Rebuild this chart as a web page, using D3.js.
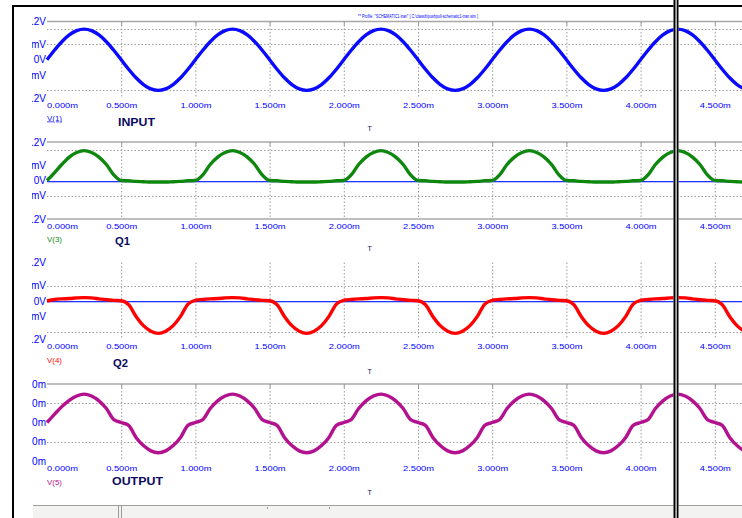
<!DOCTYPE html>
<html>
<head>
<meta charset="utf-8">
<script src="https://cdn.jsdelivr.net/npm/d3@7"></script>
<style>
  html, body { margin: 0; padding: 0; background: #fff; }
  svg { display: block; font-family: "Liberation Sans", Arial, sans-serif; }
</style>
</head>
<body>
<svg width="742" height="518"></svg>
<script>
// samples every 0.05 ms
const STEP = 0.05;

const inputV = [
  0, .31, .59, .81, .95, 1, .95, .81, .59, .31, 0, -.31, -.59, -.81, -.95, -1, -.95, -.81, -.59, -.31,
  0, .31, .59, .81, .95, 1, .95, .81, .59, .31, 0, -.31, -.59, -.81, -.95, -1, -.95, -.81, -.59, -.31,
  0, .31, .59, .81, .95, 1, .95, .81, .59, .31, 0, -.31, -.59, -.81, -.95, -1, -.95, -.81, -.59, -.31,
  0, .31, .59, .81, .95, 1, .95, .81, .59, .31, 0, -.31, -.59, -.81, -.95, -1, -.95, -.81, -.59, -.31,
  0, .31, .59, .81, .95, 1, .95, .81, .59, .31, 0, -.31, -.59, -.81, -.95, -1
];

const q1V = [
  0, .25, .52, .76, .91, .97, .91, .76, .52, .18, 0, -.01, -.03, -.04, -.05, -.05, -.05, -.04, -.03, -.01,
  0, .18, .52, .76, .91, .97, .91, .76, .52, .18, 0, -.01, -.03, -.04, -.05, -.05, -.05, -.04, -.03, -.01,
  0, .18, .52, .76, .91, .97, .91, .76, .52, .18, 0, -.01, -.03, -.04, -.05, -.05, -.05, -.04, -.03, -.01,
  0, .18, .52, .76, .91, .97, .91, .76, .52, .18, 0, -.01, -.03, -.04, -.05, -.05, -.05, -.04, -.03, -.01,
  0, .18, .52, .76, .91, .97, .91, .76, .52, .18, 0, -.01, -.03, -.04, -.05, -.05
];

const q2V = [
  0, .05, .07, .08, .1, .11, .1, .07, .04, .02, .01, -.12, -.5, -.8, -.98, -1.05, -.98, -.8, -.5, -.1,
  .02, .05, .07, .08, .1, .11, .1, .07, .04, .02, .01, -.12, -.5, -.8, -.98, -1.05, -.98, -.8, -.5, -.1,
  .02, .05, .07, .08, .1, .11, .1, .07, .04, .02, .01, -.12, -.5, -.8, -.98, -1.05, -.98, -.8, -.5, -.1,
  .02, .05, .07, .08, .1, .11, .1, .07, .04, .02, .01, -.12, -.5, -.8, -.98, -1.05, -.98, -.8, -.5, -.1,
  .02, .05, .07, .08, .1, .11, .1, .07, .04, .02, .01, -.12, -.5, -.8, -.98, -1.05
];

const outputV = [
  0, .17, .33, .46, .55, .59, .55, .45, .29, .06, 0, -.06, -.31, -.48, -.59, -.63, -.59, -.48, -.31, -.06,
  0, .06, .29, .45, .55, .59, .55, .45, .29, .06, 0, -.06, -.31, -.48, -.59, -.63, -.59, -.48, -.31, -.06,
  0, .06, .29, .45, .55, .59, .55, .45, .29, .06, 0, -.06, -.31, -.48, -.59, -.63, -.59, -.48, -.31, -.06,
  0, .06, .29, .45, .55, .59, .55, .45, .29, .06, 0, -.06, -.31, -.48, -.59, -.63, -.59, -.48, -.31, -.06,
  0, .06, .29, .45, .55, .59, .55, .45, .29, .06, 0, -.06, -.31, -.48, -.59, -.63
];

const xTicks = [0, 0.5, 1, 1.5, 2, 2.5, 3, 3.5, 4, 4.5];
const xTickLabels = ["0.000m", "0.500m", "1.000m", "1.500m", "2.000m", "2.500m", "3.000m", "3.500m", "4.000m", "4.500m"];

const voltTicks = [1.25, 0.5, 0, -0.5, -1.25];
const voltTickLabels = ["1.2V", "500mV", "0V", "-500mV", "-1.2V"];
const outTicks = [0.8, 0.4, 0, -0.4, -0.8];
const outTickLabels = ["800m", "400m", "0m", "-400m", "-800m"];

const plotTitles = ["INPUT", "Q1", "Q2", "OUTPUT"];
const traceNames = ["V(1)", "V(3)", "V(4)", "V(5)"];
const headerText = "** Profile: \"SCHEMATIC1-tran\"  [ C:\\classb\\pushpull-schematic1-tran.sim ]";

const BLUE = '#0000ff', GRID = '#9c9c9c';
const svg = d3.select('svg');
const x = d3.scaleLinear().domain([0, 5]).range([47, 47 + 148.4 * 5]);
const times = inputV.map((d, i) => i * STEP);

const panels = [
  {values: inputV, color: '#0a0aff', top: 21.5, bottom: 98, domain: [-1.25, 1.25],
   ticks: voltTicks, labels: voltTickLabels, grid: [1, 0.5, -1], zero: false, topLine: true, bottomLine: false,
   titleX: 118, titleY: 125.5, titleW: 37, traceY: 120.5, tY: 131},
  {values: q1V, color: '#0f870f', top: 142, bottom: 219, domain: [-1.25, 1.25],
   ticks: voltTicks, labels: voltTickLabels, grid: [1, -0.5], zero: true, topLine: true, bottomLine: true,
   titleX: 115, titleY: 245, titleW: 15, traceY: 241.5, tY: 251},
  {values: q2V, color: '#ff0000', top: 262.5, bottom: 339.5, domain: [-1.25, 1.25],
   ticks: voltTicks, labels: voltTickLabels, grid: [0.5, -1], zero: true, topLine: false, bottomLine: false,
   titleX: 113, titleY: 367, titleW: 15, traceY: 363, tY: 374},
  {values: outputV, color: '#b3128f', top: 384, bottom: 461, domain: [-0.8, 0.8],
   ticks: outTicks, labels: outTickLabels, grid: [0.4, -0.4], zero: false, topLine: true, bottomLine: false,
   titleX: 112, titleY: 485, titleW: 51, traceY: 485, tY: 495}
];

// y labels are cut off by the window edge
svg.append('defs').append('clipPath').attr('id', 'ylab')
  .append('rect').attr('x', 32).attr('y', 0).attr('width', 16).attr('height', 518);

panels.forEach((p, i) => {
  const y = d3.scaleLinear().domain(p.domain).range([p.bottom, p.top]);
  const g = svg.append('g');

  // vertical dotted grid
  g.selectAll('.vgrid').data(xTicks.filter(d => d > 0)).enter().append('line')
    .attr('x1', d => x(d) + 0.5).attr('x2', d => x(d) + 0.5)
    .attr('y1', p.top).attr('y2', p.bottom)
    .attr('stroke', GRID).attr('stroke-width', 1).attr('stroke-dasharray', '1.5,2');

  g.selectAll('.hgrid').data(p.grid).enter().append('line')
    .attr('x1', 47).attr('x2', 742)
    .attr('y1', d => Math.round(y(d)) + 0.5).attr('y2', d => Math.round(y(d)) + 0.5)
    .attr('stroke', GRID).attr('stroke-width', 1).attr('stroke-dasharray', '1.5,2');

  if (p.topLine) {
    g.append('line').attr('x1', 47).attr('x2', 742).attr('y1', p.top).attr('y2', p.top)
      .attr('stroke', '#a8a8a8').attr('stroke-width', 1.5);
    g.selectAll('.tick').data(xTicks.filter(d => d > 0)).enter().append('line')
      .attr('x1', d => x(d) + 0.5).attr('x2', d => x(d) + 0.5)
      .attr('y1', p.top).attr('y2', p.top + 4)
      .attr('stroke', GRID).attr('stroke-width', 1);
  }
  if (p.bottomLine) {
    g.append('line').attr('x1', 47).attr('x2', 742).attr('y1', p.bottom).attr('y2', p.bottom)
      .attr('stroke', '#a8a8a8').attr('stroke-width', 1.5);
  }
  if (p.zero) {
    g.append('rect').attr('x', 47).attr('width', 695)
      .attr('y', Math.round(y(0))).attr('height', 1.3)
      .attr('fill', '#2233ff');
  }

  // waveform
  const line = d3.line()
    .x((d, k) => x(times[k]))
    .y(d => y(d))
    .curve(d3.curveMonotoneX);
  g.append('path').datum(p.values)
    .attr('d', line)
    .attr('fill', 'none')
    .attr('stroke', p.color)
    .attr('stroke-width', 3.4)
    .attr('stroke-linejoin', 'round');

  // y tick labels
  g.append('g').attr('clip-path', 'url(#ylab)')
    .selectAll('text').data(p.ticks).enter().append('text')
    .attr('x', 46).attr('y', d => y(d) + 3.5)
    .attr('text-anchor', 'end')
    .attr('font-size', 10)
    .attr('fill', BLUE)
    .text((d, k) => p.labels[k]);

  // x tick labels
  g.selectAll('.xlab').data(xTicks).enter().append('text')
    .attr('x', d => d === 0 ? x(d) : x(d) - 15)
    .attr('y', p.bottom + 9.5)
    .attr('font-size', 8)
    .attr('textLength', 31)
    .attr('lengthAdjust', 'spacingAndGlyphs')
    .attr('fill', BLUE)
    .text((d, k) => xTickLabels[k]);

  // trace name
  g.append('text')
    .attr('x', 47).attr('y', p.traceY)
    .attr('font-size', 7.5)
    .attr('textLength', 15)
    .attr('lengthAdjust', 'spacingAndGlyphs')
    .attr('fill', p.color)
    .attr('text-decoration', i === 0 ? 'underline' : null)
    .text(traceNames[i]);

  // plot title
  g.append('text')
    .attr('x', p.titleX).attr('y', p.titleY)
    .attr('font-size', 10.5)
    .attr('font-weight', 'bold')
    .attr('textLength', p.titleW)
    .attr('lengthAdjust', 'spacingAndGlyphs')
    .attr('fill', '#0a0a60')
    .text(plotTitles[i]);

  // x axis name
  g.append('text')
    .attr('x', 367.5).attr('y', p.tY)
    .attr('font-size', 7)
    .attr('fill', '#0a0a60')
    .text('T');
});

// header line of the probe window
svg.append('text')
  .attr('x', 358).attr('y', 18)
  .attr('font-size', 5.5)
  .attr('textLength', 120)
  .attr('lengthAdjust', 'spacingAndGlyphs')
  .attr('fill', BLUE)
  .text(headerText);

// status bar at the bottom
const bar = svg.append('g');
bar.append('rect').attr('x', 33).attr('y', 505).attr('width', 709).attr('height', 13).attr('fill', '#f3f3f1');
bar.append('line').attr('x1', 33).attr('x2', 742).attr('y1', 505.5).attr('y2', 505.5).attr('stroke', '#a0a0a0');
[118.5, 121.5].forEach(d => {
  bar.append('line').attr('x1', d).attr('x2', d).attr('y1', 506).attr('y2', 518).attr('stroke', '#9a9a9a');
});
[267.5, 329.5].forEach(d => {
  bar.append('line').attr('x1', d).attr('x2', d).attr('y1', 507).attr('y2', 509).attr('stroke', '#9a9a9a');
});

// window frame and cursor line
svg.append('rect').attr('x', 12).attr('y', 5).attr('width', 730).attr('height', 2).attr('fill', '#000');
svg.append('rect').attr('x', 12).attr('y', 5).attr('width', 2).attr('height', 513).attr('fill', '#000');
svg.append('rect').attr('x', 673.5).attr('y', 0).attr('width', 5).attr('height', 518).attr('fill', '#fff');
svg.append('rect').attr('x', 673.5).attr('y', 0).attr('width', 2).attr('height', 518).attr('fill', '#000');
svg.append('rect').attr('x', 676.7).attr('y', 0).attr('width', 1.8).attr('height', 518).attr('fill', '#000');
</script>
</body>
</html>
